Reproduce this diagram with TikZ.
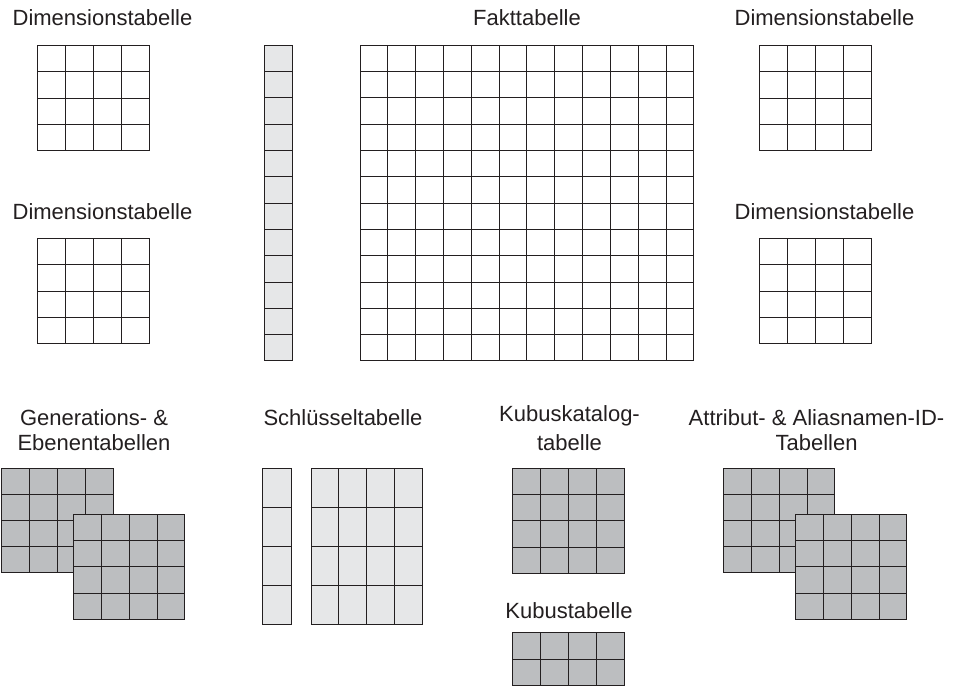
\documentclass[tikz,border=0pt]{standalone}
\usepackage{fontspec}
\setmainfont{Liberation Sans}
\definecolor{ink}{HTML}{231F20}
\definecolor{keyfill}{HTML}{E6E7E8}
\definecolor{sysfill}{HTML}{BCBEC0}
\newcommand\tgrid[7]{%
  \filldraw[gridline, fill=#7] (#1,#2) rectangle ++({#3*#5},{#4*#6});
  \foreach \i in {0,...,#3} \draw[gridline] ({#1+\i*#5},#2) -- ++(0,{#4*#6});
  \foreach \j in {0,...,#4} \draw[gridline] (#1,{#2+\j*#6}) -- ++({#3*#5},0);
}
\begin{document}
\begin{tikzpicture}[x=1pt,y=-1pt,
  gridline/.style={draw=ink, line width=1pt},
  lbl/.style={anchor=base, inner sep=0pt, text=ink, align=center,
    font=\fontsize{22}{24.3}\selectfont}]
\useasboundingbox (0,0) rectangle (960,687);
% top row
\node[lbl] (dimTL) at (102.5,26) {Dimensionstabelle};
\node[lbl] (dimBL) at (102.5,219) {Dimensionstabelle};
\node[lbl] (fakt)  at (527,26) {Fakttabelle};
\node[lbl] (dimTR) at (824.5,26) {Dimensionstabelle};
\node[lbl] (dimBR) at (824.5,219) {Dimensionstabelle};
\tgrid{37.3}{45.7}{4}{4}{28}{26.25}{white}
\tgrid{37.3}{238.7}{4}{4}{28}{26.25}{white}
\tgrid{759.3}{45.7}{4}{4}{28}{26.25}{white}
\tgrid{759.3}{238.7}{4}{4}{28}{26.25}{white}
\tgrid{264.7}{45.3}{1}{12}{28}{26.3}{keyfill}
\tgrid{360}{45.3}{12}{12}{27.83}{26.3}{white}
% bottom row
\node[lbl] (gen)  at (94,450) {Generations- \&\\Ebenentabellen};
\node[lbl] (key)  at (343,425.7) {Schlüsseltabelle};
\node[lbl] (kcat) at (569.5,450) {Kubuskatalog-\\[4pt]tabelle};
\node[lbl] (kub)  at (569,618.3) {Kubustabelle};
\node[lbl] (attr) at (816.5,450) {Attribut- \& Aliasnamen-ID-\\Tabellen};
\tgrid{1.7}{468.3}{4}{4}{27.9}{26.1}{sysfill}
\tgrid{73.3}{514.3}{4}{4}{27.9}{26.25}{sysfill}
\tgrid{262.7}{468.3}{1}{4}{28.3}{39}{keyfill}
\tgrid{311}{468.3}{4}{4}{27.93}{39}{keyfill}
\tgrid{512.3}{468.3}{4}{4}{28}{26.25}{sysfill}
\tgrid{512.3}{632.7}{4}{2}{28}{26.5}{sysfill}
\tgrid{723.3}{468.3}{4}{4}{27.9}{26.1}{sysfill}
\tgrid{795.3}{514.3}{4}{4}{27.9}{26.25}{sysfill}
\end{tikzpicture}
\end{document}
